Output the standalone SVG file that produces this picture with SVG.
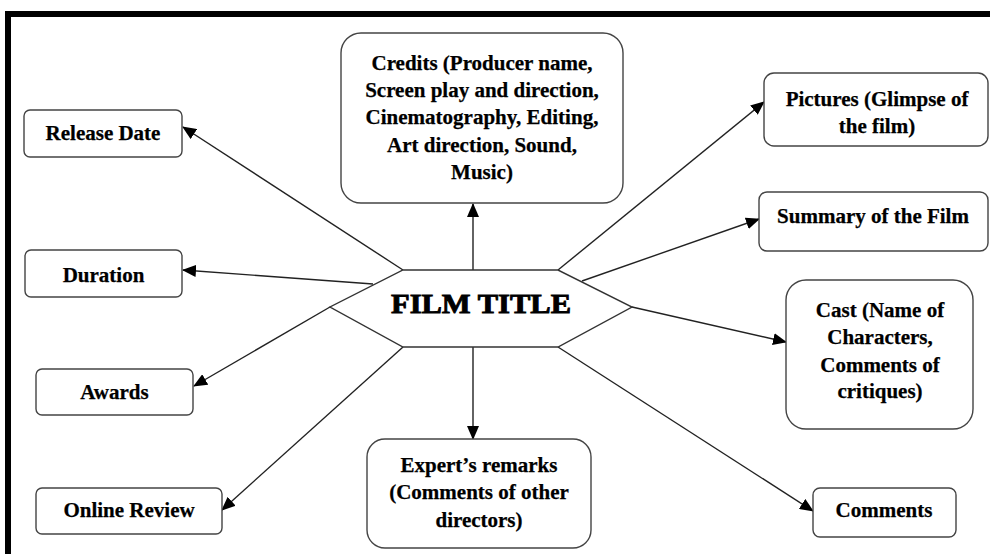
<svg xmlns="http://www.w3.org/2000/svg" width="990" height="554" viewBox="0 0 990 554">
<style>
.box{fill:#fff;stroke:#444;stroke-width:1.4}
.t{font-family:"Liberation Serif","Times New Roman",serif;font-weight:bold;font-size:21px;fill:#000;stroke:#000;stroke-width:0.25;text-anchor:middle}
.c{stroke:#222;stroke-width:1.4;fill:none;marker-end:url(#ah)}
.frame{fill:#000}
</style>
<defs>
<marker id="ah" markerUnits="userSpaceOnUse" markerWidth="14" markerHeight="12" viewBox="0 0 14 12" refX="13" refY="6" orient="auto">
<path d="M0,0 L14,6 L0,12 Z" fill="#000"/>
</marker>
</defs>
<rect width="990" height="554" fill="#fff"/>
<g id="frame">
<rect class="frame" x="5" y="11" width="985" height="6"/>
<rect class="frame" x="5" y="11" width="6" height="543"/>
</g>
<g id="connectors">
<line class="c" x1="403" y1="270" x2="183" y2="127"/>
<line class="c" x1="373" y1="284" x2="183" y2="270"/>
<line class="c" x1="330" y1="307" x2="194" y2="386"/>
<line class="c" x1="403" y1="347" x2="222" y2="510"/>
<line class="c" x1="473" y1="270" x2="473" y2="204"/>
<line class="c" x1="473" y1="347" x2="473" y2="439"/>
<line class="c" x1="558" y1="270" x2="764" y2="102"/>
<line class="c" x1="582" y1="281" x2="759" y2="219"/>
<line class="c" x1="632" y1="307" x2="786" y2="342"/>
<line class="c" x1="558" y1="347" x2="813" y2="511"/>
</g>
<g id="film-title">
<polygon points="403,270 558,270 632,307 558,347 403,347 330,307" fill="#fff" stroke="#333" stroke-width="1.4"/>
<text x="481" y="313" font-family="'Liberation Serif','Times New Roman',serif" font-weight="bold" font-size="27" fill="#000" stroke="#000" stroke-width="0.9" text-anchor="middle" textLength="180" lengthAdjust="spacingAndGlyphs">FILM TITLE</text>
</g>
<g id="release-date">
<rect class="box" x="24" y="110" width="158" height="47" rx="6"/>
<text class="t" x="103" y="140">Release Date</text>
</g>
<g id="duration">
<rect class="box" x="25" y="250" width="157" height="47" rx="6"/>
<text class="t" x="103.5" y="282">Duration</text>
</g>
<g id="awards">
<rect class="box" x="36" y="369" width="157" height="46" rx="6"/>
<text class="t" x="114.5" y="399">Awards</text>
</g>
<g id="online-review">
<rect class="box" x="36" y="488" width="186" height="46" rx="6"/>
<text class="t" x="129" y="517">Online Review</text>
</g>
<g id="credits">
<rect class="box" x="341" y="33" width="282" height="170" rx="20"/>
<text class="t" x="482" y="70">Credits (Producer name,</text>
<text class="t" x="482" y="97">Screen play and direction,</text>
<text class="t" x="482" y="124">Cinematography, Editing,</text>
<text class="t" x="482" y="152">Art direction, Sound,</text>
<text class="t" x="482" y="179">Music)</text>
</g>
<g id="expert-remarks">
<rect class="box" x="367" y="439" width="224" height="109" rx="18"/>
<text class="t" x="479" y="472">Expert’s remarks</text>
<text class="t" x="479" y="499">(Comments of other</text>
<text class="t" x="479" y="527">directors)</text>
</g>
<g id="pictures">
<rect class="box" x="764" y="73" width="224" height="73" rx="10"/>
<text class="t" x="877" y="106">Pictures (Glimpse of</text>
<text class="t" x="877" y="133">the film)</text>
</g>
<g id="summary">
<rect class="box" x="759" y="192" width="229" height="59" rx="8"/>
<text class="t" x="873" y="223">Summary of the Film</text>
</g>
<g id="cast">
<rect class="box" x="786" y="280" width="187" height="149" rx="20"/>
<text class="t" x="880" y="317">Cast (Name of</text>
<text class="t" x="880" y="344">Characters,</text>
<text class="t" x="880" y="372">Comments of</text>
<text class="t" x="880" y="398">critiques)</text>
</g>
<g id="comments">
<rect class="box" x="813" y="488" width="143" height="49" rx="7"/>
<text class="t" x="884" y="517">Comments</text>
</g>
</svg>
